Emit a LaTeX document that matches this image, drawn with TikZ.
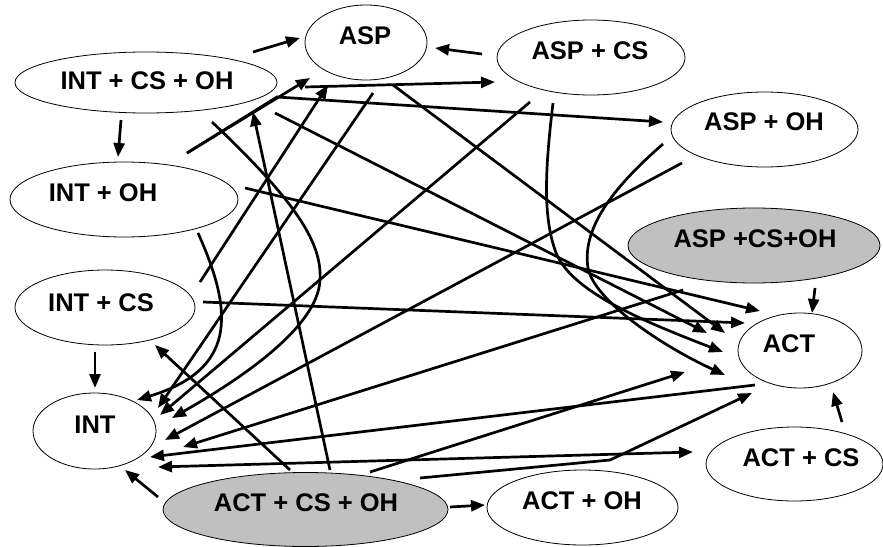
\documentclass[tikz,border=0pt]{standalone}
\usepackage{fontspec}
\setmainfont{Liberation Sans}
\usetikzlibrary{shapes.geometric,arrows.meta}
\definecolor{shade}{RGB}{192,192,192}
\begin{document}
\begin{tikzpicture}[x=1pt,y=-1pt,
  state/.style={ellipse,draw,line width=0.8pt,inner sep=0pt},
  greystate/.style={state,fill=shade},
  lbl/.style={font=\fontsize{25.5}{25.5}\selectfont\bfseries,inner sep=0pt,text height=18.2pt,text depth=0pt},
  link/.style={line width=2.7pt,-{Triangle[length=14pt,width=11pt]}},
  twoway/.style={line width=2.7pt,{Triangle[length=14pt,width=11pt]}-{Triangle[length=14pt,width=11pt]}},
]
\useasboundingbox (0,0) rectangle (883,546);
\fill[white] (0,0) rectangle (883,546);

% states
\node[state,minimum width=122pt,minimum height=75pt] (asp) at (366,42.5) {};
\node[state,minimum width=188pt,minimum height=75pt] (aspcs) at (591,57.5) {};
\node[state,minimum width=187pt,minimum height=75pt] (aspoh) at (764.5,129.5) {};
\node[greystate,minimum width=252pt,minimum height=75pt] (aspcsoh) at (754,245.5) {};
\node[state,minimum width=262pt,minimum height=61pt] (intcsoh) at (146,82.5) {};
\node[state,minimum width=228pt,minimum height=75pt] (intoh) at (124,199.5) {};
\node[state,minimum width=180pt,minimum height=75pt] (intcs) at (105,307.5) {};
\node[state,minimum width=123pt,minimum height=76pt] (int) at (94.5,431) {};
\node[greystate,minimum width=285pt,minimum height=74pt] (actcsoh) at (305.5,509.5) {};
\node[state,minimum width=191pt,minimum height=75pt] (actoh) at (582.5,507.5) {};
\node[state,minimum width=177pt,minimum height=74pt] (actcs) at (794.5,464) {};
\node[state,minimum width=124pt,minimum height=75pt] (act) at (800,350.5) {};

% labels
\node[lbl] (asp-l) at (365,35) {ASP};
\node[lbl] (aspcs-l) at (590,50) {ASP + CS};
\node[lbl] (aspoh-l) at (764,121) {ASP + OH};
\node[lbl] (aspcsoh-l) at (755,238) {ASP +CS+OH};
\node[lbl] (intcsoh-l) at (147,80) {INT + CS + OH};
\node[lbl] (intoh-l) at (103,192) {INT + OH};
\node[lbl] (intcs-l) at (101,302) {INT + CS};
\node[lbl] (int-l) at (95,424) {INT};
\node[lbl] (actcsoh-l) at (306,502) {ACT + CS + OH};
\node[lbl] (actoh-l) at (582,500) {ACT + OH};
\node[lbl] (actcs-l) at (801,457) {ACT + CS};
\node[lbl] (act-l) at (789,343) {ACT};

% connector end points
\coordinate (s1) at (253,52);   \coordinate (e1) at (300,38);
\coordinate (s2) at (482,54);   \coordinate (e2) at (435,48);
\coordinate (s3) at (121,120);  \coordinate (e3) at (118,157);
\coordinate (s4) at (95,352);   \coordinate (e4) at (95,388);
\coordinate (s5) at (158,497);  \coordinate (e5) at (125,470);
\coordinate (s6) at (450,507);  \coordinate (e6) at (485,505);
\coordinate (s7) at (842,422);  \coordinate (e7) at (833,392);
\coordinate (s8) at (815,288);  \coordinate (e8) at (812,313);
\coordinate (s9) at (187,153);  \coordinate (e9) at (310,78);
\coordinate (k10) at (305,87);  \coordinate (e10) at (495,82);
\coordinate (k11) at (277,97);  \coordinate (e11) at (663,122);
\coordinate (s12) at (200,282); \coordinate (e12) at (328,85);
\coordinate (s13) at (330,470); \coordinate (e13) at (253,112);
\coordinate (s14) at (373,93);  \coordinate (e14) at (158,408);
\coordinate (s15) at (530,102); \coordinate (e15) at (160,415);
\coordinate (s16) at (212,122); \coordinate (k16) at (320,280); \coordinate (e16) at (172,418);
\coordinate (s17) at (198,233); \coordinate (e17) at (137,400);
\coordinate (s18) at (682,163); \coordinate (e18) at (165,440);
\coordinate (s19) at (683,290); \coordinate (e19) at (183,447);
\coordinate (s20) at (755,385); \coordinate (e20) at (150,457);
\coordinate (s21) at (693,452); \coordinate (e21) at (158,467);
\coordinate (s22) at (290,470); \coordinate (e22) at (155,345);
\coordinate (s23) at (370,472); \coordinate (e23) at (685,372);
\coordinate (s24) at (420,478); \coordinate (k24) at (610,460); \coordinate (e24) at (752,393);
\coordinate (s25) at (393,85);  \coordinate (e25) at (725,333);
\coordinate (s26) at (275,113); \coordinate (e26) at (707,333);
\coordinate (s27) at (553,103); \coordinate (k27) at (555,250); \coordinate (e27) at (723,352);
\coordinate (s28) at (663,144); \coordinate (k28) at (588,268); \coordinate (e28) at (725,375);
\coordinate (s29) at (245,188); \coordinate (e29) at (760,311);
\coordinate (s30) at (203,302); \coordinate (e30) at (745,323);

% short arrows
\draw[link] (s1) -- (e1);
\draw[link] (s2) -- (e2);
\draw[link] (s3) -- (e3);
\draw[link] (s4) -- (e4);
\draw[link] (s5) -- (e5);
\draw[link] (s6) -- (e6);
\draw[link] (s7) -- (e7);
\draw[link] (s8) -- (e8);

% long connectors
\draw[link] (s9) -- (e9);
\draw[link] (k10) -- (e10);
\draw[link] (s9) -- (k11) -- (e11);
\draw[link] (s12) -- (e12);
\draw[link] (s13) -- (e13);
\draw[link] (s14) -- (e14);
\draw[link] (s15) -- (e15);
\draw[link] (s16) .. controls (300,205) and (322,245) .. (k16) .. controls (318,330) and (230,385) .. (e16);
\draw[link] (s17) .. controls (235,315) and (235,370) .. (e17);
\draw[link] (s18) -- (e18);
\draw[link] (s19) -- (e19);
\draw[link] (s20) -- (e20);
\draw[twoway] (e21) -- (s21);
\draw[link] (s22) -- (e22);
\draw[link] (s23) -- (e23);
\draw[link] (s24) -- (k24) -- (e24);
\draw[link] (s25) -- (e25);
\draw[link] (s26) -- (e26);
\draw[link] (s27) .. controls (545,170) and (543,215) .. (k27) .. controls (568,290) and (640,320) .. (e27);
\draw[link] (s28) .. controls (610,190) and (582,230) .. (k28) .. controls (594,300) and (660,345) .. (e28);
\draw[link] (s29) -- (e29);
\draw[link] (s30) -- (e30);
\end{tikzpicture}
\end{document}
